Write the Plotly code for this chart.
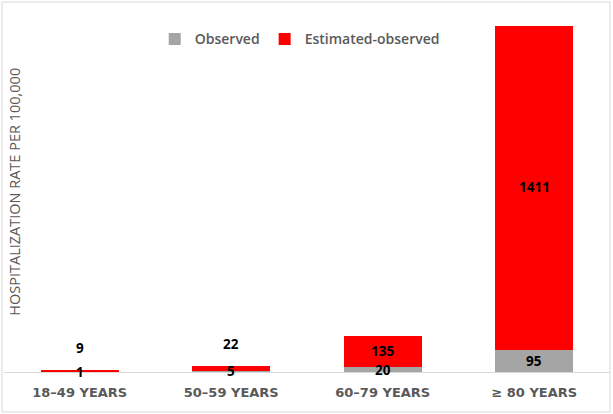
import plotly.graph_objects as go

categories = ["18\u201349 YEARS", "50\u201359 YEARS", "60\u201379 YEARS", "\u2265 80 YEARS"]
observed = [1, 5, 20, 95]
estimated_observed = [9, 22, 135, 1411]

GRAY = "#A5A5A5"
RED = "#FF0000"
TXT = "#595959"

fig = go.Figure()
fig.add_trace(go.Bar(name="Observed", x=categories, y=observed,
                     marker=dict(color=GRAY, line=dict(width=0))))
fig.add_trace(go.Bar(name="Estimated-observed", x=categories, y=estimated_observed,
                     marker=dict(color=RED, line=dict(width=0))))

y_max = 1600
plot_h = 368
px_per_unit = plot_h / y_max

annotations = []
lab_font = dict(family="Open Sans", size=13.5, color="#000000", weight="bold")
for c, o, e in zip(categories, observed, estimated_observed):
    annotations.append(dict(x=c, y=o / 2, text=str(o), showarrow=False,
                            xref="x", yref="y", font=lab_font))
    if e * px_per_unit > 20:
        annotations.append(dict(x=c, y=o + e / 2, text=str(e), showarrow=False,
                                xref="x", yref="y", yshift=1, font=lab_font))
    else:
        annotations.append(dict(x=c, y=o + e, text=str(e), showarrow=False,
                                xref="x", yref="y", yanchor="bottom", yshift=11,
                                font=lab_font))

annotations.append(dict(text="HOSPITALIZATION RATE PER 100,000", textangle=-90,
                        xref="paper", yref="paper", x=0.0, xshift=11, y=0.49,
                        xanchor="center", yanchor="middle", showarrow=False,
                        font=dict(family="Open Sans", size=14.5, color=TXT)))

fig.update_layout(
    barmode="stack",
    bargap=0.485,
    width=613, height=414,
    margin=dict(l=4, r=3, t=4, b=42),
    paper_bgcolor="white", plot_bgcolor="white",
    showlegend=True,
    legend=dict(orientation="h", x=0.488, xanchor="center", y=0.904, yanchor="middle",
                font=dict(family="Open Sans", size=14, color=TXT, weight=600),
                bgcolor="rgba(0,0,0,0)", itemwidth=30, traceorder="normal"),
    xaxis=dict(showline=True, linecolor="#D9D9D9", linewidth=1, ticks="",
               ticklabelstandoff=8,
               tickfont=dict(family="DejaVu Sans", size=13, color=TXT, weight="bold"),
               showgrid=False),
    yaxis=dict(range=[0, y_max], showticklabels=False, showgrid=False,
               zeroline=False, showline=False, ticks=""),
    annotations=annotations,
    shapes=[dict(type="rect", xref="paper", yref="paper",
                 x0=-2/606, x1=1 + 0/606, y0=-40/368, y1=1 + 2/368,
                 line=dict(color="#D9D9D9", width=1), fillcolor="rgba(0,0,0,0)",
                 layer="above")],
)

fig.write_html("out.html", config={"displayModeBar": False},
               post_script="document.body.style.margin='0px';")
